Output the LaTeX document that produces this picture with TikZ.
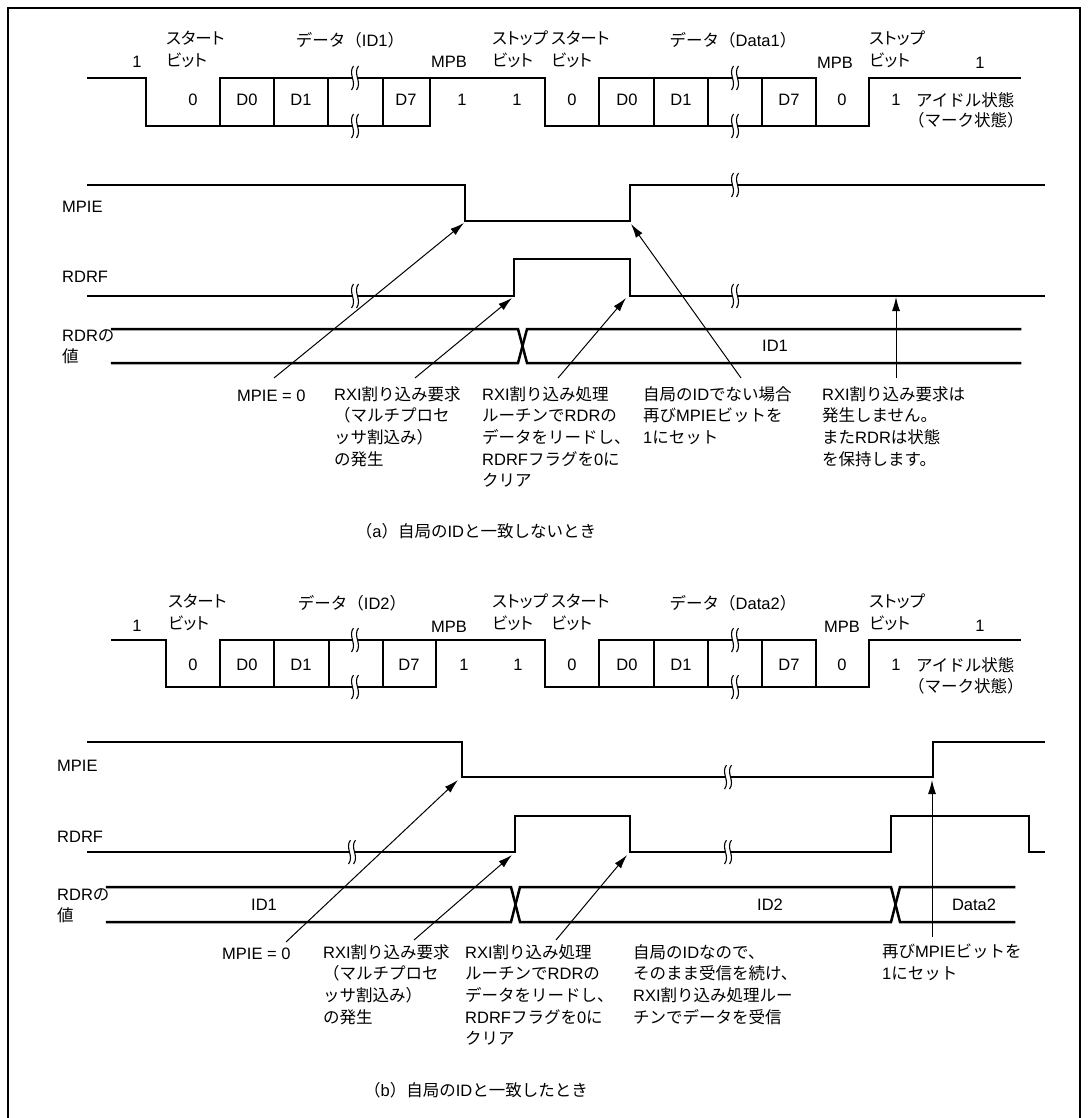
\documentclass[tikz,border=0pt]{standalone}
\usepackage{fontspec}
\setmainfont{Liberation Sans}
\newfontfamily\jfont{Noto Sans CJK JP}
\newfontfamily\jnfont[RawFeature=+palt]{Noto Sans CJK JP}
\newcommand\jtxt[1]{{\jfont #1}}
\newcommand\jnar[1]{{\jnfont #1}}
\usetikzlibrary{arrows.meta}
\tikzset{
  brk/.pic={
    \fill[white] (-2.5,-4.5) rectangle (2.5,4.5);
    \draw[line width=1.1pt] (-1.5,-12) .. controls (-7.5,-4) and (2.5,4) .. (-3.5,12);
    \draw[line width=1.1pt] (3.5,-12) .. controls (-2.5,-4) and (7.5,4) .. (1.5,12);
  }
}
\begin{document}
\begin{tikzpicture}[x=1pt,y=-1pt,
  font=\fontsize{16.5}{21.7}\selectfont,
  wave/.style={line width=2.5pt,line cap=rect,line join=miter},
  arr/.style={line width=1pt,-{Latex[length=14pt,width=8pt]}},
  lbl/.style={inner sep=0pt},
  blk/.style={inner sep=0pt,align=left,anchor=north west,execute at begin node=\strut},
  sig/.style={inner sep=0pt,anchor=west}]
\useasboundingbox (0,0) rectangle (1088,1118);
% frame
\draw[line width=2pt] (8,1118) -- (8,8) -- (1080,8) -- (1080,1118);

% ================= (a) =================
% serial frame
\draw[wave] (88,78) -- (146,78) -- (146,126) -- (430,126);
\draw[wave] (220,126) -- (220,78) -- (545,78) -- (545,126) -- (869,126) -- (869,78) -- (1020,78);
\foreach \x in {274,328,383,430} \draw[wave] (\x,78) -- (\x,126);
\draw[wave] (599,126) -- (599,78) -- (816,78) -- (816,126);
\foreach \x in {654,708,762} \draw[wave] (\x,78) -- (\x,126);
% MPIE
\draw[wave] (88,185) -- (465,185) -- (465,221) -- (630,221) -- (630,185) -- (1044,185);
% RDRF
\draw[wave] (88,296) -- (514,296) -- (514,259) -- (630,259) -- (630,296) -- (1044,296);
% RDR
\draw[wave] (112,329) -- (518,329) -- (527,363) -- (1020,363);
\draw[wave] (112,363) -- (518,363) -- (527,329) -- (1020,329);
% breaks
\pic at (355,78) {brk}; \pic at (355,126) {brk};
\pic at (735,78) {brk}; \pic at (735,126) {brk};
\pic at (735,185) {brk};
\pic at (355,296) {brk}; \pic at (735,296) {brk};

% labels above frame
\node[lbl] (a1) at (137,62) {1};
\node[blk] (ast) at (166,31) {\jnar{スタート}\\\jnar{ビット}};
\node[lbl] (adat) at (350,40) {\jtxt{データ（}ID1\jtxt{）}};
\node[lbl] (ampb) at (449,62) {MPB};
\node[blk] (asp) at (492,31) {\jnar{ストップ}\\\jnar{ビット}};
\node[blk] (ast2) at (551,31) {\jnar{スタート}\\\jnar{ビット}};
\node[lbl] (adat2) at (733,40) {\jtxt{データ（}Data1\jtxt{）}};
\node[lbl] (ampb2) at (835,63) {MPB};
\node[blk] (asp2) at (869,31) {\jnar{ストップ}\\\jnar{ビット}};
\node[lbl] (a1r) at (980,63) {1};
% bit values
\node[lbl] (ab0) at (193,100) {0};
\node[lbl] (ab1) at (247,100) {D0};
\node[lbl] (ab2) at (301,100) {D1};
\node[lbl] (ab3) at (406,100) {D7};
\node[lbl] (ab4) at (462,100) {1};
\node[lbl] (ab5) at (517,100) {1};
\node[lbl] (ab6) at (572,100) {0};
\node[lbl] (ab7) at (627,100) {D0};
\node[lbl] (ab8) at (681,100) {D1};
\node[lbl] (ab9) at (789,100) {D7};
\node[lbl] (ab10) at (842,100) {0};
\node[lbl] (ab11) at (896,100) {1};
\node[sig] (aidle) at (916,100) {\jtxt{アイドル状態}};
\node[sig] (amark) at (908,120) {\jtxt{（マーク状態）}};
% signal names
\node[sig] (ampie) at (62,207) {MPIE};
\node[sig] (ardrf) at (62,277) {RDRF};
\node[blk] (ardr) at (62,329) {RDR\jtxt{の}\\\jtxt{値}};
\node[lbl] (aid1) at (775,346) {ID1};
% notes
\node[blk] (ta1) at (237,386) {MPIE = 0};
\node[blk] (ta2) at (334,386) {RXI\jtxt{割り込み要求}\\\jtxt{（マルチプロセ}\\\jtxt{ッサ割込み）}\\\jtxt{の発生}};
\node[blk] (ta3) at (482,386) {RXI\jtxt{割り込み処理}\\\jtxt{ルーチンで}RDR\jtxt{の}\\\jtxt{データをリードし、}\\RDRF\jtxt{フラグを}0\jtxt{に}\\\jtxt{クリア}};
\node[blk] (ta4) at (643,386) {\jtxt{自局の}ID\jtxt{でない場合}\\\jtxt{再び}MPIE\jtxt{ビットを}\\1\jtxt{にセット}};
\node[blk] (ta5) at (822,386) {RXI\jtxt{割り込み要求は}\\\jtxt{発生しません。}\\\jtxt{また}RDR\jtxt{は状態}\\\jtxt{を保持します。}};
\node[lbl] (capa) at (476,531) {\jtxt{（}a\jtxt{）自局の}ID\jtxt{と一致しないとき}};
% arrows
\coordinate (sa1) at (274,378); \coordinate (pa1) at (464,223);
\coordinate (sa2) at (415,378); \coordinate (pa2) at (512,298);
\coordinate (sa3) at (558,378); \coordinate (pa3) at (626,298);
\coordinate (sa4) at (741,378); \coordinate (pa4) at (631,224);
\coordinate (sa5) at (896,378); \coordinate (pa5) at (896,297);
\draw[arr] (sa1) -- (pa1);
\draw[arr] (sa2) -- (pa2);
\draw[arr] (sa3) -- (pa3);
\draw[arr] (sa4) -- (pa4);
\draw[arr] (sa5) -- (pa5);

% ================= (b) =================
\draw[wave] (112,640) -- (166,640) -- (166,687) -- (436,687);
\draw[wave] (220,687) -- (220,640) -- (545,640) -- (545,687) -- (869,687) -- (869,640) -- (1020,640);
\foreach \x in {274,329,383,436} \draw[wave] (\x,640) -- (\x,687);
\draw[wave] (599,687) -- (599,640) -- (816,640) -- (816,687);
\foreach \x in {654,708,762} \draw[wave] (\x,640) -- (\x,687);
% MPIE
\draw[wave] (88,742) -- (462,742) -- (462,777) -- (933,777) -- (933,742) -- (1044,742);
% RDRF
\draw[wave] (88,852) -- (515,852) -- (515,816) -- (630,816) -- (630,852) -- (891,852) -- (891,816) -- (1029,816) -- (1029,852) -- (1044,852);
% RDR
\draw[wave] (107,887) -- (511,887) -- (520,922) -- (891,922) -- (900,887) -- (1014,887);
\draw[wave] (107,922) -- (511,922) -- (520,887) -- (891,887) -- (900,922) -- (1014,922);
% breaks
\pic at (355,640) {brk}; \pic at (355,687) {brk};
\pic at (735,640) {brk}; \pic at (735,687) {brk};
\pic at (728,777) {brk};
\pic at (352,852) {brk}; \pic at (728,852) {brk};

\node[lbl] (b1) at (137,626) {1};
\node[blk] (bst) at (168,594) {\jnar{スタート}\\\jnar{ビット}};
\node[lbl] (bdat) at (352,603) {\jtxt{データ（}ID2\jtxt{）}};
\node[lbl] (bmpb) at (449,627) {MPB};
\node[blk] (bsp) at (492,594) {\jnar{ストップ}\\\jnar{ビット}};
\node[blk] (bst2) at (551,594) {\jnar{スタート}\\\jnar{ビット}};
\node[lbl] (bdat2) at (733,603) {\jtxt{データ（}Data2\jtxt{）}};
\node[lbl] (bmpb2) at (842,627) {MPB};
\node[blk] (bsp2) at (869,594) {\jnar{ストップ}\\\jnar{ビット}};
\node[lbl] (b1r) at (980,626) {1};
\node[lbl] (bb0) at (193,665) {0};
\node[lbl] (bb1) at (247,665) {D0};
\node[lbl] (bb2) at (301,665) {D1};
\node[lbl] (bb3) at (409,665) {D7};
\node[lbl] (bb4) at (464,665) {1};
\node[lbl] (bb5) at (518,665) {1};
\node[lbl] (bb6) at (572,665) {0};
\node[lbl] (bb7) at (627,665) {D0};
\node[lbl] (bb8) at (681,665) {D1};
\node[lbl] (bb9) at (789,665) {D7};
\node[lbl] (bb10) at (842,665) {0};
\node[lbl] (bb11) at (896,665) {1};
\node[sig] (bidle) at (916,665) {\jtxt{アイドル状態}};
\node[sig] (bmark) at (908,686) {\jtxt{（マーク状態）}};
\node[sig] (bmpie) at (57,766) {MPIE};
\node[sig] (brdrf) at (57,837) {RDRF};
\node[blk] (brdr) at (57,888) {RDR\jtxt{の}\\\jtxt{値}};
\node[lbl] (bid1) at (264,905) {ID1};
\node[lbl] (bid2) at (770,905) {ID2};
\node[lbl] (bdata2) at (974,905) {Data2};
\node[blk] (tb1) at (222,944) {MPIE = 0};
\node[blk] (tb2) at (323,944) {RXI\jtxt{割り込み要求}\\\jtxt{（マルチプロセ}\\\jtxt{ッサ割込み）}\\\jtxt{の発生}};
\node[blk] (tb3) at (465,944) {RXI\jtxt{割り込み処理}\\\jtxt{ルーチンで}RDR\jtxt{の}\\\jtxt{データをリードし、}\\RDRF\jtxt{フラグを}0\jtxt{に}\\\jtxt{クリア}};
\node[blk] (tb4) at (633,944) {\jtxt{自局の}ID\jtxt{なので、}\\\jtxt{そのまま受信を続け、}\\RXI\jtxt{割り込み処理ルー}\\\jtxt{チンでデータを受信}};
\node[blk] (tb5) at (882,944) {\jtxt{再び}MPIE\jtxt{ビットを}\\1\jtxt{にセット}};
\node[lbl] (capb) at (476,1090) {\jtxt{（}b\jtxt{）自局の}ID\jtxt{と一致したとき}};
\coordinate (sb1) at (286,942); \coordinate (pb1) at (458,780);
\coordinate (sb2) at (414,940); \coordinate (pb2) at (512,855);
\coordinate (sb3) at (556,940); \coordinate (pb3) at (627,855);
\coordinate (sb4) at (932,937); \coordinate (pb4) at (932,780);
\draw[arr] (sb1) -- (pb1);
\draw[arr] (sb2) -- (pb2);
\draw[arr] (sb3) -- (pb3);
\draw[arr] (sb4) -- (pb4);
\end{tikzpicture}
\end{document}
